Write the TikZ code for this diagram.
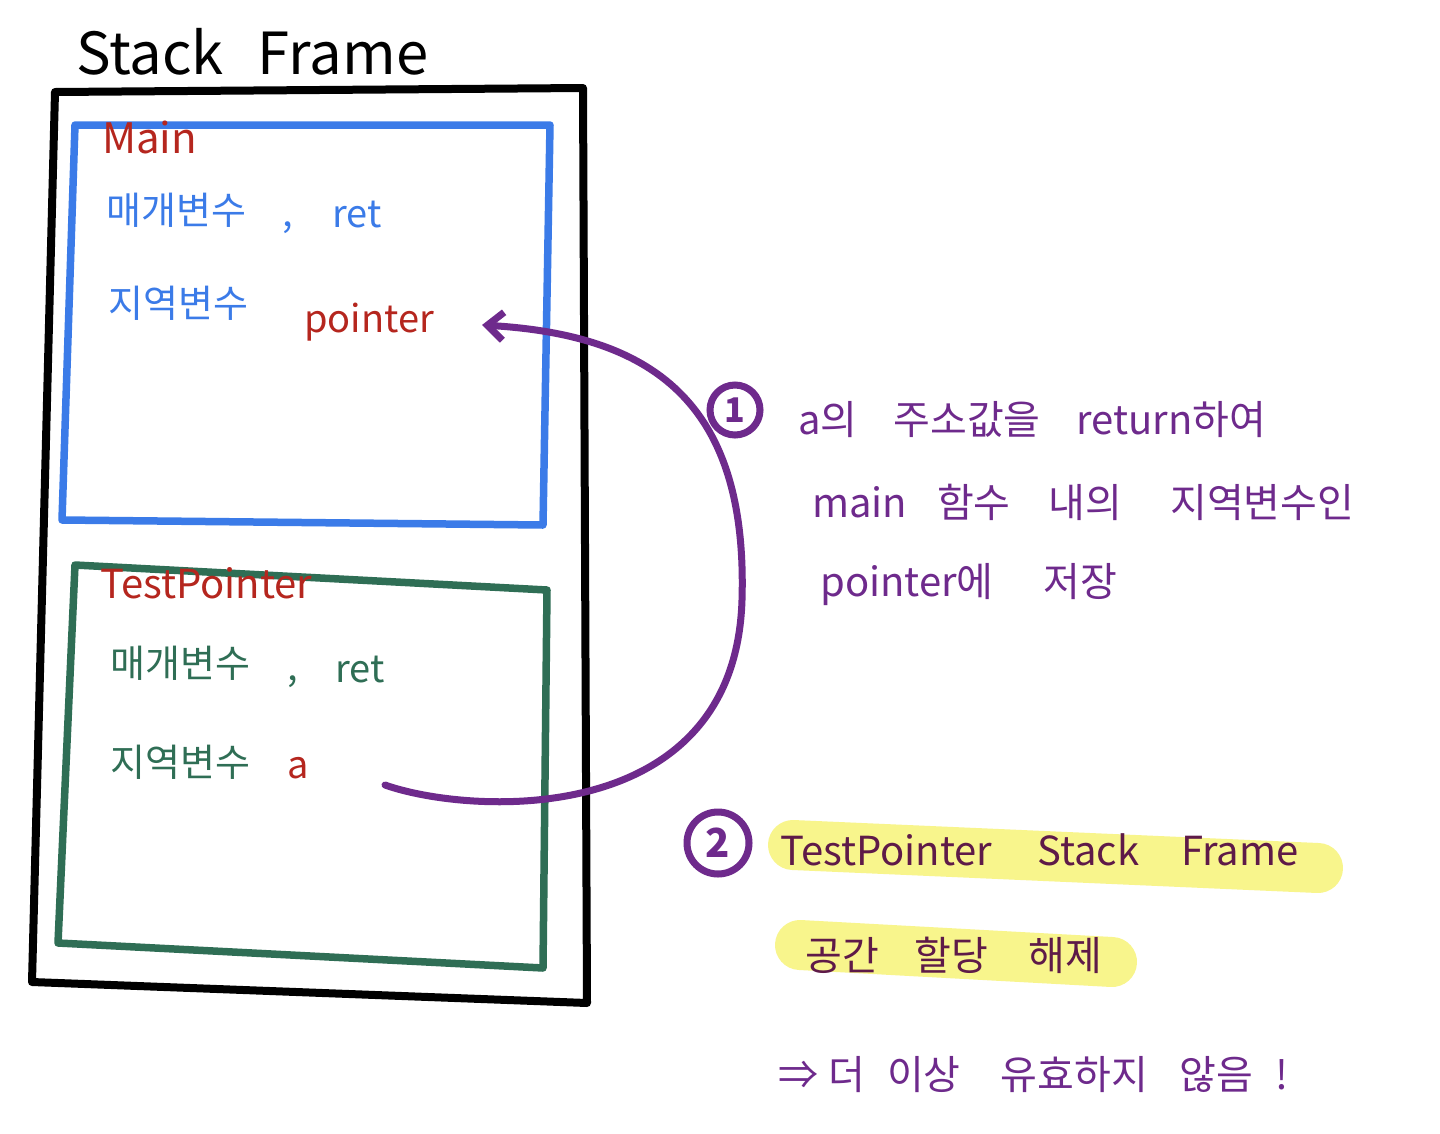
\documentclass[tikz,border=0pt]{standalone}
\usepackage{fontspec}
\newfontfamily\kr{Noto Sans CJK KR}
\usetikzlibrary{arrows.meta}
\definecolor{frameblue}{HTML}{3B7BE8}
\definecolor{framegreen}{HTML}{2F6E55}
\definecolor{penred}{HTML}{B5261E}
\definecolor{penpurple}{HTML}{6E2A8C}
\definecolor{hlyellow}{HTML}{F8F58C}
\definecolor{hltext}{HTML}{5E1A48}
\tikzset{
  pen/.style={line width=#1, line cap=round, line join=round},
  lbl/.style={font=\kr\fontsize{38}{40}\selectfont, inner sep=0pt, anchor=west},
  rlbl/.style={font=\kr\fontsize{40}{42}\selectfont, inner sep=0pt, anchor=west},
  hl/.style={line width=50pt, line cap=round, draw=hlyellow},
  numcirc/.style={draw=penpurple, line width=7pt, circle, inner sep=0pt, text=penpurple},
}
\begin{document}
\begin{tikzpicture}[x=1pt,y=-1pt]
\useasboundingbox (0,0) rectangle (1440,1133);
\fill[white] (0,0) rectangle (1440,1133);

% title
\node[lbl, font=\kr\fontsize{58}{60}\selectfont] (title) at (76,52) {Stack\hspace{34pt}Frame};

% outer frame
\draw[pen=8pt, black] (55,92) -- (583,88) -- (587,1003) -- (32,982) -- cycle;

% Main frame
\draw[pen=7.5pt, frameblue] (75,125) -- (550,125) -- (543,525) -- (62,520) -- cycle;
\node[lbl, text=penred, font=\kr\fontsize{42}{44}\selectfont] (mainlbl) at (102,137) {Main};
\node[lbl, text=frameblue] (m1) at (106,210) {매개변수};
\node[lbl, text=frameblue] (mc) at (282,228) {,};
\node[lbl, text=frameblue] (mret) at (332,215) {ret};
\node[lbl, text=frameblue] (m2) at (108,303) {지역변수};
\node[lbl, text=penred] (pointer) at (304,322) {pointer};

% TestPointer frame
\draw[pen=7.5pt, framegreen] (75,565) -- (547,590) -- (543,968) -- (58,943) -- cycle;
\node[lbl, text=penred, font=\kr\fontsize{40}{42}\selectfont] (tplbl) at (100,583) {TestPointer};
\node[lbl, text=framegreen] (t1) at (110,663) {매개변수};
\node[lbl, text=framegreen] (tc) at (287,682) {,};
\node[lbl, text=framegreen] (tret) at (335,670) {ret};
\node[lbl, text=framegreen] (t2) at (110,762) {지역변수};
\node[lbl, text=penred] (avar) at (287,768) {a};

% arrow from a to pointer
\coordinate (astart) at (385,785);
\coordinate (ptip) at (482,325);
\draw[pen=7pt, penpurple, -{Straight Barb[length=16pt,width=28pt,line width=7pt]}]
  (astart) .. controls (470,815) and (735,830) .. (742,600)
  .. controls (748,400) and (650,335) .. (ptip);

% step 1
\node[numcirc, minimum size=50pt, font=\kr\bfseries\fontsize{34}{36}\selectfont] (one) at (735,410) {1};
\node[rlbl, text=penpurple] (s1a) at (798,420) {a의\hspace{36pt}주소값을\hspace{36pt}return하여};
\node[rlbl, text=penpurple] (s1b) at (812,502) {main\hspace{30pt}함수\hspace{38pt}내의\hspace{48pt}지역변수인};
\node[rlbl, text=penpurple] (s1c) at (820,585) {pointer에\hspace{50pt}저장};

% step 2
\draw[hl] (793,845) -- (1318,868);
\draw[hl] (800,945) -- (1112,962);
\node[numcirc, minimum size=62pt, font=\kr\bfseries\fontsize{40}{42}\selectfont] (two) at (718,843) {2};
\node[rlbl, text=hltext] (s2a) at (780,850) {TestPointer\hspace{45pt}Stack\hspace{42pt}Frame};
\node[rlbl, text=hltext] (s2b) at (805,955) {공간\hspace{36pt}할당\hspace{40pt}해제};
\node[rlbl, text=penpurple] (s2c) at (778,1075) {⇒\hspace{10pt}더\hspace{22pt}이상\hspace{40pt}유효하지\hspace{32pt}않음\hspace{22pt}!};
\end{tikzpicture}
\end{document}
